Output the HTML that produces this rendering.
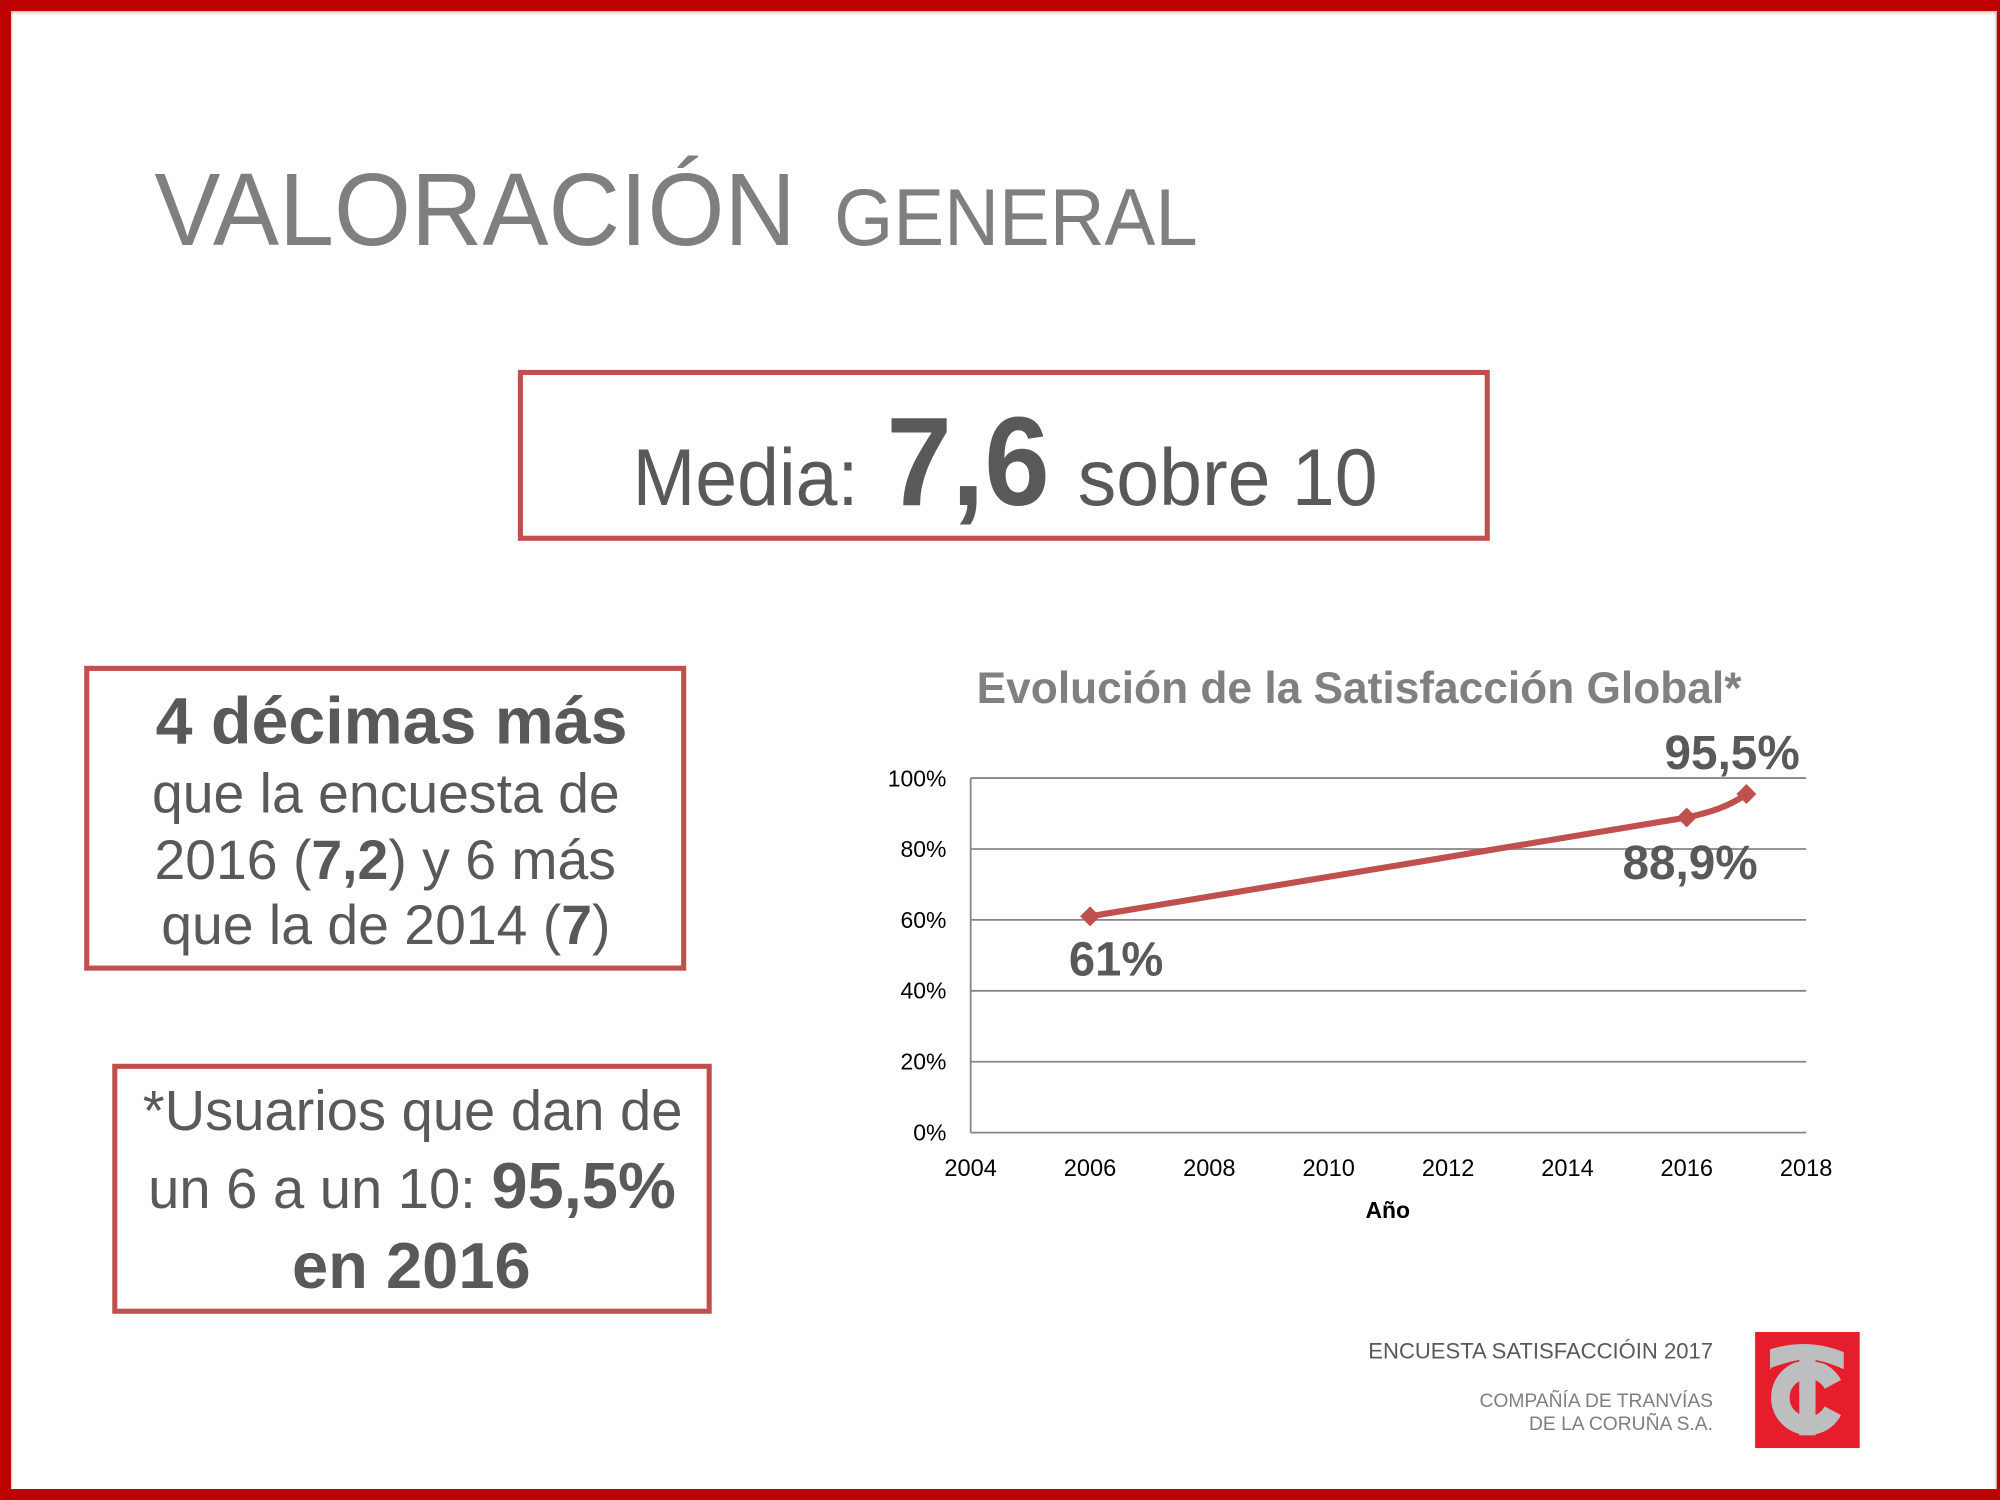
<!DOCTYPE html>
<html>
<head>
<meta charset="utf-8">
<style>
  html,body{margin:0;padding:0;background:#fff;}
  body{width:2000px;height:1500px;overflow:hidden;}
  svg{display:block;}
  text{font-family:"Liberation Sans", Arial, sans-serif;}
</style>
</head>
<body>
<svg width="2000" height="1500" viewBox="0 0 1568 1176" xmlns="http://www.w3.org/2000/svg">
  <defs>
    <linearGradient id="shT" x1="0" y1="0" x2="0" y2="1">
      <stop offset="0" stop-color="#9a9a9a" stop-opacity="0.7"/>
      <stop offset="1" stop-color="#ffffff" stop-opacity="0"/>
    </linearGradient>
    <linearGradient id="shL" x1="0" y1="0" x2="1" y2="0">
      <stop offset="0" stop-color="#9a9a9a" stop-opacity="0.5"/>
      <stop offset="1" stop-color="#ffffff" stop-opacity="0"/>
    </linearGradient>
    <linearGradient id="shR" x1="1" y1="0" x2="0" y2="0">
      <stop offset="0" stop-color="#9a9a9a" stop-opacity="0.5"/>
      <stop offset="1" stop-color="#ffffff" stop-opacity="0"/>
    </linearGradient>
  </defs>

  <rect x="0" y="0" width="1568" height="1176" fill="#ffffff"/>

  <!-- inner shadows -->
  <rect x="8.6" y="8.6" width="1556" height="4" fill="url(#shT)"/>
  <rect x="8.6" y="8.6" width="3" height="1159" fill="url(#shL)"/>
  <rect x="1561.6" y="8.6" width="4" height="1159" fill="url(#shR)"/>

  <!-- red frame -->
  <rect x="0" y="0" width="1568" height="8.6" fill="#bd0000"/>
  <rect x="0" y="0" width="8.6" height="1176" fill="#bd0000"/>
  <rect x="1565.5" y="0" width="2.5" height="1176" fill="#bd0000"/>
  <rect x="0" y="1167.4" width="1568" height="8.6" fill="#bd0000"/>

  <!-- Title -->
  <text x="121" y="192" font-size="80.8" fill="#7f7f7f" textLength="503" lengthAdjust="spacingAndGlyphs">VALORACIÓN</text>
  <text x="654" y="192" font-size="63" fill="#7f7f7f" textLength="285" lengthAdjust="spacingAndGlyphs">GENERAL</text>

  <!-- Media box -->
  <rect x="408" y="292" width="758" height="130" fill="none" stroke="#c0504d" stroke-width="4"/>
  <text x="496" y="396" font-size="63.5" fill="#595959" textLength="177" lengthAdjust="spacingAndGlyphs">Media:</text>
  <text x="695" y="396" font-size="99" font-weight="bold" fill="#595959" textLength="128" lengthAdjust="spacingAndGlyphs">7,6</text>
  <text x="845" y="396" font-size="63.5" fill="#595959" textLength="235" lengthAdjust="spacingAndGlyphs">sobre 10</text>

  <!-- Box 2 -->
  <rect x="68" y="524" width="468" height="235" fill="none" stroke="#c0504d" stroke-width="4"/>
  <g fill="#595959" text-anchor="middle">
    <text x="307" y="583" font-size="52" font-weight="bold">4 décimas más</text>
    <text x="302.5" y="637" font-size="43.4">que la encuesta de</text>
    <text x="302" y="689" font-size="43.4">2016 (<tspan font-weight="bold">7,2</tspan>) y 6 más</text>
    <text x="302.5" y="740" font-size="43.4">que la de 2014 (<tspan font-weight="bold">7</tspan>)</text>
  </g>

  <!-- Box 3 -->
  <rect x="90" y="836" width="466" height="192" fill="none" stroke="#c0504d" stroke-width="4"/>
  <g fill="#595959" text-anchor="middle">
    <text x="323.5" y="886" font-size="44">*Usuarios que dan de</text>
    <text x="323" y="947" font-size="44">un 6 a un 10: <tspan font-weight="bold" font-size="51">95,5%</tspan></text>
    <text x="322.5" y="1010" font-size="51" font-weight="bold">en 2016</text>
  </g>

  <!-- Chart -->
  <text x="1065.5" y="551" font-size="34.7" font-weight="bold" fill="#808080" text-anchor="middle">Evolución de la Satisfacción Global*</text>

  <g stroke="#868686" stroke-width="1.4" fill="none">
    <line x1="761" y1="610" x2="1416" y2="610"/>
    <line x1="761" y1="665.6" x2="1416" y2="665.6"/>
    <line x1="761" y1="721.2" x2="1416" y2="721.2"/>
    <line x1="761" y1="776.8" x2="1416" y2="776.8"/>
    <line x1="761" y1="832.4" x2="1416" y2="832.4"/>
    <line x1="761" y1="888" x2="1416" y2="888"/>
    <line x1="761" y1="610" x2="761" y2="888"/>
  </g>

  <g font-size="18" fill="#000" text-anchor="end">
    <text x="742" y="616.5">100%</text>
    <text x="742" y="672">80%</text>
    <text x="742" y="727.5">60%</text>
    <text x="742" y="783">40%</text>
    <text x="742" y="838.5">20%</text>
    <text x="742" y="894">0%</text>
  </g>
  <g font-size="18.5" fill="#000" text-anchor="middle">
    <text x="761" y="922">2004</text>
    <text x="854.6" y="922">2006</text>
    <text x="948.1" y="922">2008</text>
    <text x="1041.7" y="922">2010</text>
    <text x="1135.3" y="922">2012</text>
    <text x="1228.9" y="922">2014</text>
    <text x="1322.4" y="922">2016</text>
    <text x="1416" y="922">2018</text>
  </g>
  <text x="1088" y="955" font-size="18" font-weight="bold" fill="#000" text-anchor="middle">Año</text>

  <path d="M854.6,718.4 L1322.4,640.9 C1338,637.5 1355,633 1369.2,622.5" fill="none" stroke="#c0504d" stroke-width="4.8" stroke-linejoin="round"/>
  <g fill="#c0504d">
    <path d="M854.6,710.6 L862.4,718.4 L854.6,726.2 L846.8,718.4 Z"/>
    <path d="M1322.4,633.1 L1330.2,640.9 L1322.4,648.7 L1314.6,640.9 Z"/>
    <path d="M1369.2,614.7 L1377,622.5 L1369.2,630.3 L1361.4,622.5 Z"/>
  </g>

  <g font-size="37.5" font-weight="bold" fill="#595959">
    <text x="1305" y="603" textLength="106" lengthAdjust="spacingAndGlyphs">95,5%</text>
    <text x="1272" y="689" textLength="106" lengthAdjust="spacingAndGlyphs">88,9%</text>
    <text x="838" y="765" textLength="74" lengthAdjust="spacingAndGlyphs">61%</text>
  </g>

  <!-- Footer -->
  <text x="1343" y="1065" font-size="17.3" fill="#595959" text-anchor="end">ENCUESTA SATISFACCIÓIN 2017</text>
  <text x="1343" y="1103" font-size="15.1" fill="#7f7f7f" text-anchor="end">COMPAÑÍA DE TRANVÍAS</text>
  <text x="1343" y="1121" font-size="15.1" fill="#7f7f7f" text-anchor="end">DE LA CORUÑA S.A.</text>

  <!-- Logo -->
  <g transform="translate(1376,1044.3) scale(0.2603,0.2622)">
    <rect x="0" y="0" width="315" height="347" fill="#e61d2b"/>
    <g fill="#bcbec0">
      <path d="M45,52 Q156,16 267,60 L267,114 Q225,94 182,86 L133,86 Q90,92 45,112 Z"/>
      <rect x="133" y="84" width="49" height="225"/>
    </g>
    <path d="M234.2,156.6 A84,84 0 1 0 234.2,235.4" fill="none" stroke="#bcbec0" stroke-width="56"/>
    <g stroke="#e61d2b" stroke-width="5" fill="none">
      <path d="M48,110 Q95,92 133,86"/>
      <path d="M182,86 Q225,94 267,114"/>
    </g>
  </g>
</svg>
</body>
</html>
